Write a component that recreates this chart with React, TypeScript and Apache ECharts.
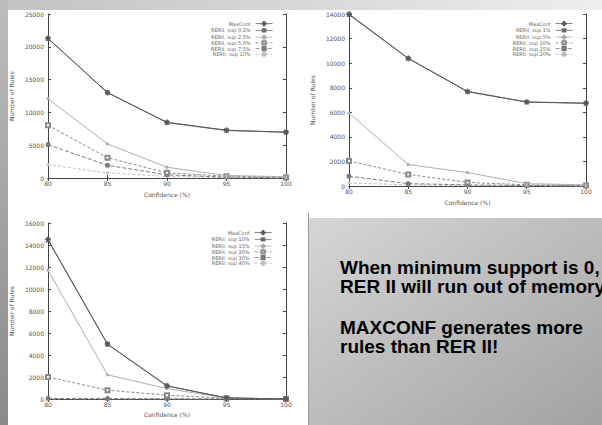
import React, { useEffect, useRef } from "react";
import * as echarts from "echarts";

const confidence = [80, 85, 90, 95, 100];

const chart1Names = ["MaxConf", "RERII, sup 0.2%", "RERII, sup 2.5%", "RERII, sup 5.0%", "RERII, sup 7.5%", "RERII, sup 10%"];
const chart1MaxConf = [21300, 13000, 8500, 7300, 7000];
const chart1SupA = [21250, 13050, 8450, 7250, 6980];
const chart1SupB = [12100, 5200, 1650, 400, 200];
const chart1SupC = [8050, 3100, 800, 300, 100];
const chart1SupD = [5100, 1950, 500, 150, 50];
const chart1SupE = [2050, 800, 250, 60, 0];

const chart2Names = ["MaxConf", "RERII, sup 1%", "RERII, sup 5%", "RERII, sup 10%", "RERII, sup 15%", "RERII, sup 20%"];
const chart2MaxConf = [14000, 10400, 7700, 6850, 6750];
const chart2SupA = [13950, 10380, 7680, 6830, 6730];
const chart2SupB = [5950, 1750, 1100, 200, 100];
const chart2SupC = [2050, 950, 300, 100, 50];
const chart2SupD = [800, 200, 100, 50, 20];
const chart2SupE = [250, 100, 50, 20, 0];

const chart3Names = ["MaxConf", "RERII, sup 10%", "RERII, sup 15%", "RERII, sup 20%", "RERII, sup 30%", "RERII, sup 40%"];
const chart3MaxConf = [14500, 5000, 1200, 100, 0];
const chart3SupA = [14450, 4980, 1180, 100, 0];
const chart3SupB = [11700, 2200, 950, 80, 0];
const chart3SupC = [2000, 800, 350, 50, 0];
const chart3SupD = [50, 30, 20, 0, 0];
const chart3SupE = [0, 0, 0, 0, 0];

const textLines = [
  "When minimum support is 0,",
  "RER II will run out of memory",
  "MAXCONF generates more",
  "rules than RER II!",
];

const PLUS = "path://M4.4,0H5.6V4.4H10V5.6H5.6V10H4.4V5.6H0V4.4H4.4Z";

const seriesStyles = [
  { color: "#5a5a5a", type: "solid", width: 1, symbol: PLUS, size: 5, rotate: 0 },
  { color: "#6a6a6a", type: "solid", width: 1, symbol: PLUS, size: 5, rotate: 45 },
  { color: "#adadad", type: "solid", width: 1, symbol: "diamond", size: 3, rotate: 0 },
  { color: "#8a8a8a", type: [3, 2], width: 1, symbol: "emptyRect", size: 4, rotate: 0 },
  { color: "#7a7a7a", type: [4, 2], width: 1, symbol: "rect", size: 3.5, rotate: 0 },
  { color: "#bdbdbd", type: [3, 2], width: 1, symbol: "circle", size: 2, rotate: 0 },
];

type Cfg = {
  names: string[];
  values: number[][];
  grid: { left: number; top: number; width: number; height: number };
  yMax: number;
  yInterval: number;
  legendRight: number;
  legendTop: number;
  xNameGap: number;
  yNameGap: number;
};

function makeOption(c: Cfg) {
  const axisCommon = {
    type: "value" as const,
    axisLine: { show: true, lineStyle: { color: "#444", width: 1 } },
    axisTick: { show: true, inside: true, length: 3, lineStyle: { color: "#444" } },
    splitLine: { show: false },
  };
  const labelStyle = { fontSize: 6, color: "#555", fontFamily: "DejaVu Sans" };
  return {
    animation: false,
    grid: { ...c.grid, containLabel: false },
    legend: {
      orient: "vertical",
      right: c.legendRight,
      top: c.legendTop,
      align: "right",
      itemWidth: 17,
      itemHeight: 4,
      itemGap: 0.5,
      lineStyle: { width: 0.8 },
      textStyle: { fontSize: 5, color: "#666", fontFamily: "DejaVu Sans", padding: [0, 0, 0, 0] },
      data: c.names,
    },
    xAxis: [
      {
        ...axisCommon,
        min: 80,
        max: 100,
        interval: 5,
        position: "bottom",
        name: "Confidence (%)",
        nameLocation: "middle",
        nameGap: c.xNameGap,
        nameTextStyle: labelStyle,
        axisLabel: { ...labelStyle, margin: 2 },
      },
      {
        ...axisCommon,
        min: 80,
        max: 100,
        interval: 5,
        position: "top",
        axisLabel: { show: false },
      },
    ],
    yAxis: [
      {
        ...axisCommon,
        min: 0,
        max: c.yMax,
        interval: c.yInterval,
        position: "left",
        name: "Number of Rules",
        nameLocation: "middle",
        nameGap: c.yNameGap,
        nameTextStyle: labelStyle,
        axisLabel: { ...labelStyle, margin: 4, formatter: (v: number) => String(v) },
      },
      {
        ...axisCommon,
        min: 0,
        max: c.yMax,
        interval: c.yInterval,
        position: "right",
        axisLabel: { show: false },
      },
    ],
    series: c.values.map((vals, i) => {
      const s = seriesStyles[i];
      return {
        type: "line",
        name: c.names[i],
        xAxisIndex: 0,
        yAxisIndex: 0,
        data: confidence.map((x, j) => [x, vals[j]]),
        symbol: s.symbol,
        symbolSize: s.size,
        symbolRotate: s.rotate,
        itemStyle: { color: s.color, borderColor: s.color, borderWidth: 1 },
        lineStyle: { color: s.color, type: s.type, width: s.width },
        z: 10 - i,
      };
    }),
  };
}

const chart1Option = makeOption({
  names: chart1Names,
  values: [chart1MaxConf, chart1SupA, chart1SupB, chart1SupC, chart1SupD, chart1SupE],
  grid: { left: 47, top: 14, width: 239, height: 175 },
  yMax: 25000,
  yInterval: 5000,
  legendRight: 23,
  legendTop: 16,
  xNameGap: 8,
  yNameGap: 31,
});

const chart2Option = makeOption({
  names: chart2Names,
  values: [chart2MaxConf, chart2SupA, chart2SupB, chart2SupC, chart2SupD, chart2SupE],
  grid: { left: 43, top: 14, width: 242, height: 177 },
  yMax: 14000,
  yInterval: 2000,
  legendRight: 24,
  legendTop: 16,
  xNameGap: 10,
  yNameGap: 31,
});

const chart3Option = makeOption({
  names: chart3Names,
  values: [chart3MaxConf, chart3SupA, chart3SupB, chart3SupC, chart3SupD, chart3SupE],
  grid: { left: 47, top: 21, width: 239, height: 176 },
  yMax: 16000,
  yInterval: 2000,
  legendRight: 31,
  legendTop: 23,
  xNameGap: 12,
  yNameGap: 31,
});

const textLineY = [49, 68, 109, 128];

const textOption = {
  animation: false,
  graphic: [
    {
      type: "rect",
      shape: { x: 0, y: 0, width: 293, height: 207 },
      style: {
        fill: new echarts.graphic.LinearGradient(0, 0, 1, 1, [
          { offset: 0, color: "#d6d6d6" },
          { offset: 1, color: "#a2a2a2" },
        ]),
      },
      z: 0,
    },
    ...textLines.map((t, i) => ({
      type: "text",
      x: 31,
      y: textLineY[i],
      style: {
        text: t,
        fontSize: 19,
        fontWeight: "bold",
        fontFamily: "Liberation Sans, Arial, sans-serif",
        fill: "#000",
        textVerticalAlign: "middle",
        textAlign: "left",
      },
      z: 1,
    })),
  ],
};

function Chart({ option, style }: { option: any; style: React.CSSProperties }) {
  const ref = useRef<HTMLDivElement>(null);
  useEffect(() => {
    if (!ref.current) return;
    const chart = echarts.init(ref.current, undefined, { renderer: "svg" });
    chart.setOption(option);
    return () => chart.dispose();
  }, [option]);
  return <div ref={ref} style={{ position: "absolute", ...style }} />;
}

export default function App() {
  return (
    <div
      style={{
        position: "absolute",
        left: 0,
        top: 0,
        width: 602,
        height: 425,
        overflow: "hidden",
        background: "#ffffff",
      }}
    >
      <div
        style={{
          position: "absolute",
          left: 0,
          top: 0,
          width: 602,
          height: 10,
          background: "linear-gradient(to right, #c2c2c2, #eeeeee)",
        }}
      />
      <div
        style={{
          position: "absolute",
          left: 0,
          top: 0,
          width: 8,
          height: 425,
          background: "linear-gradient(to bottom, #bdbdbd, #8a8a8a)",
        }}
      />
      <Chart option={chart1Option} style={{ left: 0, top: 0, width: 301, height: 202 }} />
      <Chart option={chart2Option} style={{ left: 301, top: 0, width: 301, height: 210 }} />
      <Chart option={chart3Option} style={{ left: 0, top: 202, width: 308, height: 223 }} />
      <div
        style={{
          position: "absolute",
          left: 308,
          top: 213,
          width: 1,
          height: 212,
          background: "#9a9a9a",
        }}
      />
      <Chart option={textOption} style={{ left: 309, top: 218, width: 293, height: 207 }} />
    </div>
  );
}
